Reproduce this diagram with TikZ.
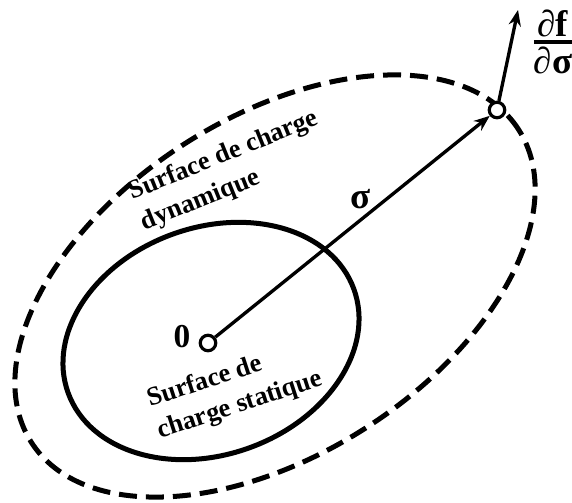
\documentclass[tikz,border=0pt]{standalone}
\usepackage{amsmath}
\usepackage{fontspec}
\setmainfont{Liberation Serif}
\usetikzlibrary{arrows.meta}

\begin{document}
\begin{tikzpicture}[font=\bfseries, >={Stealth[length=9pt,width=7pt]},
    dot/.style={circle, draw, fill=white, line width=1.8pt, minimum size=0.31cm, inner sep=0pt},
    surftext/.style={font=\bfseries\fontsize{15pt}{18.8pt}\selectfont, align=left, inner sep=0pt},
    bigtext/.style={font=\bfseries\fontsize{21pt}{25pt}\selectfont, inner sep=0pt}]
  \useasboundingbox (0,0) rectangle (11.44,10.04);
  % Loading surfaces
  \draw[line width=2.85pt, dash pattern=on 0.36cm off 0.18cm, rotate around={32.7:(5.5,4.32)}]
        (5.5,4.32) ellipse [x radius=5.79, y radius=3.37];
  \draw[line width=2.85pt, rotate around={20:(4.22,3.22)}]
        (4.22,3.22) ellipse [x radius=3.04, y radius=2.27];
  % Stress point and gradient
  \node[dot] (origin) at (4.16, 3.18) {};
  \node[dot] (stress) at (9.94, 7.84) {};
  \coordinate (gradend) at (10.36, 9.84);
  \draw[->, line width=1.9pt] (origin) -- (stress);
  \draw[->, line width=1.9pt] (stress) -- (gradend);
  % Labels
  \node[bigtext] (zero) at (3.64, 3.3) {\fontsize{19pt}{22pt}\selectfont 0};
  \node[bigtext] (sigma) at (7.22, 6.06) {σ};
  \node[bigtext] (grad) at (11.06, 9.2) {$\genfrac{}{}{1.9pt}{1}{\hbox{∂f}}{\hbox{∂σ}}$};
  \node[surftext, rotate=22, anchor=base west] (dyn) at (2.89, 5.43) {Surface de charge\\dynamique};
  \node[surftext, rotate=18, anchor=base west] (stat) at (3.2, 1.27) {Surface de\\charge statique};
\end{tikzpicture}
\end{document}
